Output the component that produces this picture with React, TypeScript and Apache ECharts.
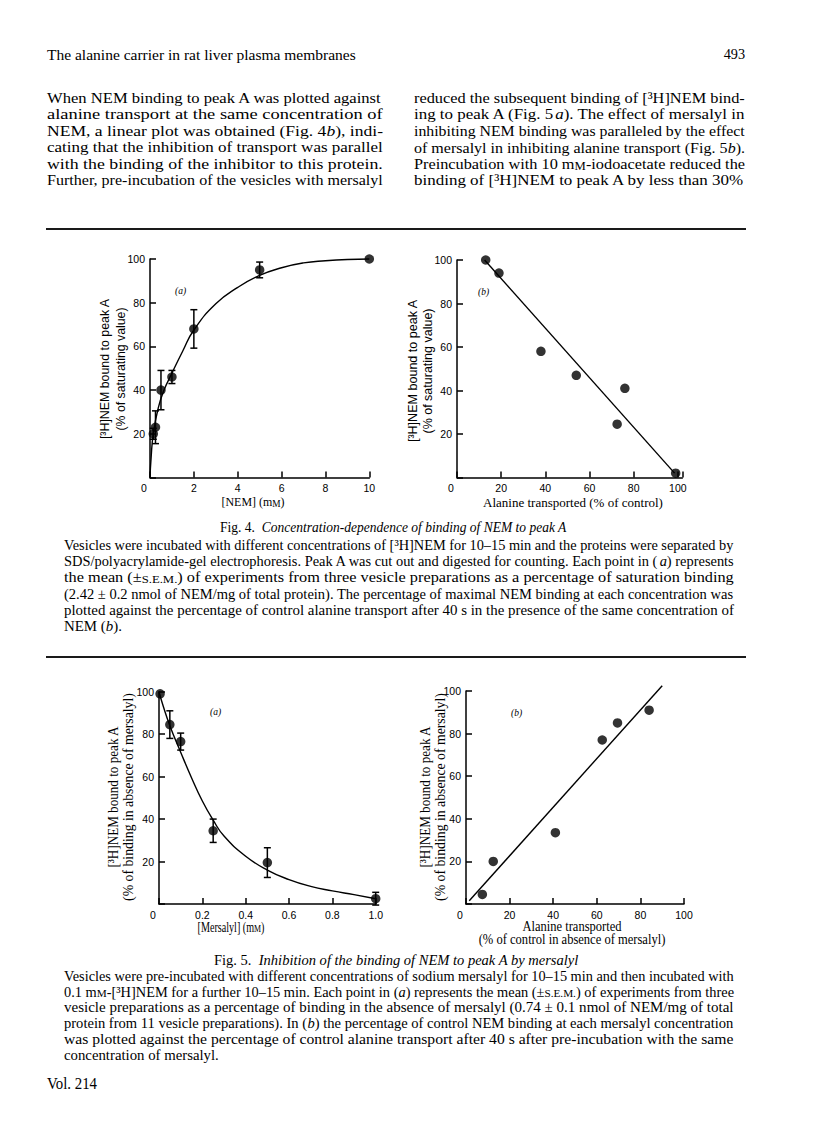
import React, { useEffect, useRef } from "react";
import * as echarts from "echarts";

// ---------------- DATA ----------------
// Fig. 4(a): [NEM] (mM) vs [3H]NEM bound (% of saturating value)
const fig4aNEM = [0.15, 0.25, 0.5, 1, 2, 5, 10];
const fig4aBound = [20, 23, 40, 46, 68, 95, 100];
const fig4aSEM = [2.5, 7.5, 9, 3, 8.8, 3.6, 0];
const fig4aCurveNEM = [0, 0.05, 0.15, 0.38, 0.64, 0.94, 1.5, 2, 3, 4, 5, 6, 7, 8, 9, 10];
const fig4aCurveBound = [0, 9, 20, 32, 40, 46.5, 58, 67.5, 79.5, 87, 92.5, 96, 98.2, 99.2, 99.8, 100];

// Fig. 4(b): alanine transported (% of control) vs NEM bound
const fig4bAlanine = [13, 19, 38, 54, 72.5, 76, 99];
const fig4bBound = [100, 94, 58, 47, 24.5, 41, 2];
const fig4bFitAlanine = [12.5, 98.5];
const fig4bFitBound = [100, 2];

// Fig. 5(a): [Mersalyl] (mM) vs NEM bound (% of binding in absence of mersalyl)
const fig5aMersalyl = [0.005, 0.05, 0.1, 0.25, 0.5, 1.0];
const fig5aBound = [99, 84.5, 76.5, 34.5, 19.5, 2.5];
const fig5aSEM = [0, 6.5, 4, 5.5, 7, 3];
const fig5aCurveMersalyl = [0, 0.02, 0.05, 0.1, 0.15, 0.2, 0.25, 0.3, 0.4, 0.5, 0.6, 0.7, 0.8, 0.9, 1.0];
const fig5aCurveBound = [100, 93, 84, 71.5, 59.5, 48.5, 39.5, 32, 22.5, 16, 11.5, 8.3, 6.2, 4.4, 2.5];

// Fig. 5(b): alanine transported vs NEM bound
const fig5bAlanine = [7.5, 12.5, 41, 62.5, 69.5, 84];
const fig5bBound = [4.5, 20, 33.5, 77, 85, 91];
const fig5bFitAlanine = [1.5, 90];
const fig5bFitBound = [1.5, 102.5];

// ---------------- TEXT ----------------
type St = "n" | "i" | "sc";
type Seg = [string, St];
const n = (t: string): Seg => [t, "n"];
const it = (t: string): Seg => [t, "i"];
const sc = (t: string): Seg => [t, "sc"];

const paraLeft: Seg[][] = [
  [n("When NEM binding to peak A was plotted against")],
  [n("alanine transport at the same concentration of")],
  [n("NEM, a linear plot was obtained (Fig. 4"), it("b"), n("), indi-")],
  [n("cating that the inhibition of transport was parallel")],
  [n("with the binding of the inhibitor to this protein.")],
  [n("Further, pre-incubation of the vesicles with mersalyl")],
];
const paraRight: Seg[][] = [
  [n("reduced the subsequent binding of [³H]NEM bind-")],
  [n("ing to peak A (Fig. 5"), it("a"), n("). The effect of mersalyl in")],
  [n("inhibiting NEM binding was paralleled by the effect")],
  [n("of mersalyl in inhibiting alanine transport (Fig. 5"), it("b"), n(").")],
  [n("Preincubation with 10 m"), sc("M"), n("-iodoacetate reduced the")],
  [n("binding of [³H]NEM to peak A by less than 30%")],
];
const caption4: Seg[][] = [
  [n("Vesicles were incubated with different concentrations of [³H]NEM for 10–15 min and the proteins were separated by")],
  [n("SDS/polyacrylamide-gel electrophoresis. Peak A was cut out and digested for counting. Each point in ("), it("a"), n(") represents")],
  [n("the mean (±"), sc("S.E.M."), n(") of experiments from three vesicle preparations as a percentage of saturation binding")],
  [n("(2.42 ± 0.2 nmol of NEM/mg of total protein). The percentage of maximal NEM binding at each concentration was")],
  [n("plotted against the percentage of control alanine transport after 40 s in the presence of the same concentration of")],
  [n("NEM ("), it("b"), n(").")],
];
const caption5: Seg[][] = [
  [n("Vesicles were pre-incubated with different concentrations of sodium mersalyl for 10–15 min and then incubated with")],
  [n("0.1 m"), sc("M"), n("-[³H]NEM for a further 10–15 min. Each point in ("), it("a"), n(") represents the mean (±"), sc("S.E.M."), n(") of experiments from three")],
  [n("vesicle preparations as a percentage of binding in the absence of mersalyl (0.74 ± 0.1 nmol of NEM/mg of total")],
  [n("protein from 11 vesicle preparations). In ("), it("b"), n(") the percentage of control NEM binding at each mersalyl concentration")],
  [n("was plotted against the percentage of control alanine transport after 40 s after pre-incubation with the same")],
  [n("concentration of mersalyl.")],
];

const SERIF = "Liberation Serif, Times New Roman, serif";
const SANS = "Liberation Sans, Arial, Helvetica, sans-serif";
const INK = "#000";

let _ctx: CanvasRenderingContext2D | null = null;
function ctx2d(): CanvasRenderingContext2D {
  if (!_ctx) _ctx = document.createElement("canvas").getContext("2d");
  return _ctx as CanvasRenderingContext2D;
}
function fontOf(st: St, size: number, family: string, weight = "normal") {
  if (st === "i") return `italic ${weight} ${size}px ${family}`;
  if (st === "sc") return `normal ${weight} ${size * 0.78}px ${family}`;
  return `normal ${weight} ${size}px ${family}`;
}
function measure(segs: Seg[], size: number, family: string, weight = "normal") {
  const c = ctx2d();
  let w = 0;
  for (const [t, st] of segs) {
    c.font = fontOf(st, size, family, weight);
    w += c.measureText(t).width;
  }
  return w;
}
function toRich(segs: Seg[]) {
  return segs.map(([t, st]) => (st === "n" ? t : `{${st}|${t}}`)).join("");
}
function richOf(size: number, family: string, color: string, weight: string) {
  return {
    i: { fontStyle: "italic", fontSize: size, fontFamily: family, fill: color, fontWeight: weight },
    sc: { fontSize: size * 0.78, fontFamily: family, fill: color, fontWeight: weight, verticalAlign: "bottom" },
  };
}

interface TOpt {
  x: number;
  y: number;
  size: number;
  family?: string;
  fit?: number;
  scale?: number;
  align?: "left" | "center" | "right";
  rotation?: number;
  weight?: string;
  color?: string;
}
function textEl(segs: Seg[], o: TOpt) {
  const family = o.family ?? SERIF;
  const weight = o.weight ?? "normal";
  const w = measure(segs, o.size, family, weight);
  const s = o.fit ? o.fit / w : o.scale ?? 1;
  const color = o.color ?? INK;
  const align = o.align ?? "left";
  return {
    type: "text",
    x: o.x,
    y: o.y,
    rotation: o.rotation ?? 0,
    scaleX: s,
    scaleY: 1,
    silent: true,
    z: 10,
    style: {
      text: toRich(segs),
      fill: color,
      fontSize: o.size,
      fontFamily: family,
      fontWeight: weight,
      align,
      verticalAlign: "middle",
      textAlign: align,
      textVerticalAlign: "middle",
      rich: richOf(o.size, family, color, weight),
    },
  };
}
function block(lines: Seg[][], x: number, width: number, y0: number, dy: number, size: number, justifyLast: boolean) {
  const scales = lines.map((l) => width / measure(l, size, SERIF));
  const nJ = justifyLast ? lines.length : lines.length - 1;
  let avg = 0;
  for (let i = 0; i < nJ; i++) avg += scales[i];
  avg /= Math.max(1, nJ);
  return lines.map((l, i) =>
    textEl(l, { x, y: y0 + i * dy, size, scale: i < nJ ? scales[i] : Math.min(avg, scales[i]) })
  );
}
function hline(x1: number, x2: number, y: number, w: number) {
  return { type: "line", silent: true, shape: { x1, y1: y, x2, y2: y }, style: { stroke: "#1a1a1a", lineWidth: w } };
}

const zip = (a: number[], b: number[]) => a.map((v, i) => [v, b[i]]);
const zip3 = (a: number[], b: number[], c: number[]) => a.map((v, i) => [v, b[i], c[i]]);

const TICK_FONT = { fontSize: 10.5, fontFamily: SANS, fontWeight: "normal", color: "#000" };
function axis(gridIndex: number, min: number, max: number, interval: number, fmt: (v: number) => string) {
  return {
    type: "value",
    gridIndex,
    min,
    max,
    interval,
    axisLine: { show: true, onZero: false, lineStyle: { color: "#000", width: 1.5 } },
    axisTick: { show: true, inside: true, length: 6, lineStyle: { color: "#000", width: 1.5 } },
    splitLine: { show: false },
    axisLabel: {
      show: true,
      ...TICK_FONT,
      margin: 5,
      formatter: fmt,
      rich: { z: { ...TICK_FONT, padding: [0, 12, 0, 0] } },
    },
  };
}
const yFmt = (v: number) => (v === 0 ? "" : String(v));
const originZero = "{z|0}";

function errorSeries(idx: number, data: number[][]) {
  return {
    type: "custom",
    xAxisIndex: idx,
    yAxisIndex: idx,
    data,
    clip: false,
    z: 3,
    encode: { x: 0, y: 1 },
    renderItem: (_p: any, api: any) => {
      const x = api.value(0);
      const y = api.value(1);
      const e = api.value(2);
      if (!e) return { type: "group", children: [] };
      const top = api.coord([x, y + e]);
      const bot = api.coord([x, y - e]);
      const hw = 3.5;
      const st = { stroke: "#000", lineWidth: 1.5 };
      return {
        type: "group",
        children: [
          { type: "line", shape: { x1: top[0], y1: top[1], x2: bot[0], y2: bot[1] }, style: st },
          { type: "line", shape: { x1: top[0] - hw, y1: top[1], x2: top[0] + hw, y2: top[1] }, style: st },
          { type: "line", shape: { x1: bot[0] - hw, y1: bot[1], x2: bot[0] + hw, y2: bot[1] }, style: st },
        ],
      };
    },
  };
}
function dots(idx: number, data: number[][]) {
  return {
    type: "scatter",
    xAxisIndex: idx,
    yAxisIndex: idx,
    data,
    symbol: "circle",
    symbolSize: 9.5,
    itemStyle: { color: "#000" },
    clip: false,
    z: 5,
  };
}
function curve(idx: number, data: number[][], smooth: number | boolean) {
  return {
    type: "line",
    xAxisIndex: idx,
    yAxisIndex: idx,
    data,
    smooth,
    showSymbol: false,
    symbol: "none",
    clip: false,
    lineStyle: { color: "#000", width: 1.4 },
    z: 4,
  };
}

function buildOption() {
  const g: any[] = [];
  // header
  g.push(textEl([n("The alanine carrier in rat liver plasma membranes")], { x: 47, y: 55, size: 15, fit: 309 }));
  g.push(textEl([n("493")], { x: 745, y: 54, size: 15.5, align: "right", scale: 0.92 }));
  // paragraph columns
  g.push(...block(paraLeft, 47, 336, 98, 16.4, 15.5, true));
  g.push(...block(paraRight, 414, 331, 98, 16.4, 15.5, true));
  g.push(hline(46, 746, 229, 2));

  // Fig 4 axis names
  g.push(
    textEl([n("[³H]NEM bound to peak A")], { x: 105, y: 369, size: 12.5, family: SANS, rotation: Math.PI / 2, align: "center", fit: 141 }),
    textEl([n("(% of saturating value)")], { x: 121, y: 369, size: 12.5, family: SANS, rotation: Math.PI / 2, align: "center", fit: 123 }),
    textEl([n("[³H]NEM bound to peak A")], { x: 413, y: 371, size: 12.5, family: SANS, rotation: Math.PI / 2, align: "center", fit: 143 }),
    textEl([n("(% of saturating value)")], { x: 428, y: 371, size: 12.5, family: SANS, rotation: Math.PI / 2, align: "center", fit: 125 }),
    textEl([n("[NEM] (m"), sc("M"), n(")")], { x: 253, y: 502, size: 13.5, align: "center", fit: 63 }),
    textEl([n("Alanine transported (% of control)")], { x: 573, y: 502, size: 13.5, align: "center", fit: 180 }),
    textEl([it("(a)")], { x: 175, y: 291, size: 9.5 }),
    textEl([it("(b)")], { x: 478, y: 292, size: 9.5 })
  );
  g.push(
    textEl([n("Fig. 4.  "), it("Concentration-dependence of binding of NEM to peak A")], { x: 220, y: 527, size: 15, fit: 347 })
  );
  g.push(...block(caption4, 64, 670, 545, 16.2, 14, false));
  g.push(hline(46, 746, 657, 2));

  // Fig 5 axis names
  g.push(
    textEl([n("[³H]NEM bound to peak A")], { x: 113, y: 797, size: 14, rotation: Math.PI / 2, align: "center", fit: 142 }),
    textEl([n("(% of binding in absence of mersalyl)")], { x: 128, y: 797, size: 14, rotation: Math.PI / 2, align: "center", fit: 208 }),
    textEl([n("[³H]NEM bound to peak A")], { x: 425, y: 797, size: 14, rotation: Math.PI / 2, align: "center", fit: 142 }),
    textEl([n("(% of binding in absence of mersalyl)")], { x: 440, y: 797, size: 14, rotation: Math.PI / 2, align: "center", fit: 208 }),
    textEl([n("[Mersalyl] (m"), sc("M"), n(")")], { x: 231, y: 927, size: 14, align: "center", fit: 67 }),
    textEl([n("Alanine transported")], { x: 572, y: 926, size: 14, align: "center", fit: 99 }),
    textEl([n("(% of control in absence of mersalyl)")], { x: 572, y: 939, size: 14, align: "center", fit: 187 }),
    textEl([it("(a)")], { x: 210, y: 712, size: 9.5 }),
    textEl([it("(b)")], { x: 511, y: 713, size: 9.5 })
  );
  g.push(
    textEl([n("Fig. 5.  "), it("Inhibition of the binding of NEM to peak A by mersalyl")], { x: 214, y: 960, size: 15, fit: 365 })
  );
  g.push(...block(caption5, 64, 670, 976, 15.8, 14, false));
  g.push(textEl([n("Vol. 214")], { x: 47, y: 1083, size: 16.5, scale: 0.9 }));

  return {
    animation: false,
    backgroundColor: "#fff",
    grid: [
      { left: 150, top: 259, width: 219.3, height: 218.5 },
      { left: 457, top: 260, width: 225.3, height: 217.5 },
      { left: 159, top: 691.7, width: 216.7, height: 212.3 },
      { left: 466, top: 691, width: 218, height: 213 },
    ],
    xAxis: [
      axis(0, 0, 10, 2, (v) => (v === 0 ? originZero : String(v))),
      axis(1, 0, 102, 20, (v) => (v > 100 ? "" : v === 0 ? originZero : String(v))),
      axis(2, 0, 1, 0.2, (v) => (v === 0 ? originZero : v.toFixed(1))),
      axis(3, 0, 100, 20, (v) => (v === 0 ? originZero : String(v))),
    ],
    yAxis: [
      axis(0, 0, 100, 20, yFmt),
      axis(1, 0, 100, 20, yFmt),
      axis(2, 0, 100, 20, yFmt),
      axis(3, 0, 100, 20, yFmt),
    ],
    series: [
      curve(0, zip(fig4aCurveNEM, fig4aCurveBound), 0.5),
      errorSeries(0, zip3(fig4aNEM, fig4aBound, fig4aSEM)),
      dots(0, zip(fig4aNEM, fig4aBound)),
      curve(1, zip(fig4bFitAlanine, fig4bFitBound), false),
      dots(1, zip(fig4bAlanine, fig4bBound)),
      curve(2, zip(fig5aCurveMersalyl, fig5aCurveBound), 0.5),
      errorSeries(2, zip3(fig5aMersalyl, fig5aBound, fig5aSEM)),
      dots(2, zip(fig5aMersalyl, fig5aBound)),
      curve(3, zip(fig5bFitAlanine, fig5bFitBound), false),
      dots(3, zip(fig5bAlanine, fig5bBound)),
    ],
    graphic: { elements: g },
  };
}

export default function App() {
  const ref = useRef<HTMLDivElement>(null);
  useEffect(() => {
    if (!ref.current) return;
    const chart = echarts.init(ref.current, null, { renderer: "svg", width: 816, height: 1136 });
    chart.setOption(buildOption() as any);
    return () => chart.dispose();
  }, []);
  return (
    <div
      ref={ref}
      style={{ position: "absolute", left: 0, top: 0, width: 816, height: 1136, background: "#fff" }}
    />
  );
}
